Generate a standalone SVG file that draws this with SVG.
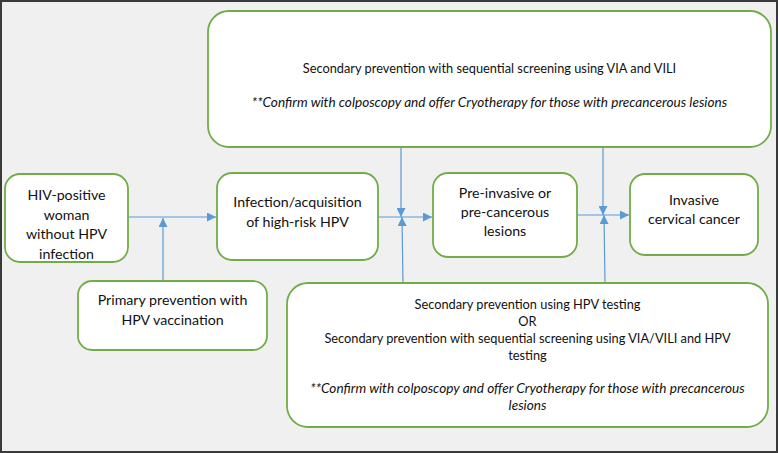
<svg xmlns="http://www.w3.org/2000/svg" width="778" height="453" viewBox="0 0 778 453">
<defs>
<style>
.bg{fill:#f0f0f0;stroke:#3a3a3a;stroke-width:2}
.box{fill:#ffffff;stroke:#70ad47;stroke-width:1.8}
.t{font-family:Lato,"Liberation Sans",sans-serif;font-size:14.2px;fill:#111;text-anchor:middle}
.s{font-family:Lato,"Liberation Sans",sans-serif;font-size:12.8px;fill:#111;text-anchor:middle}
.i{font-style:italic;font-size:13.6px}
.c{stroke:#5b9bd5;stroke-width:1.2;fill:none}
</style>
<marker id="ah" viewBox="0 0 10 10" refX="10" refY="5" markerWidth="9" markerHeight="9" markerUnits="userSpaceOnUse" orient="auto">
<path d="M0,0 L10,5 L0,10 Z" fill="#5b9bd5"/>
</marker>
</defs>
<rect class="bg" x="1" y="1" width="776" height="451"/>
<g id="connectors">
<line class="c" x1="128" y1="217" x2="216" y2="217" marker-end="url(#ah)"/>
<line class="c" x1="163" y1="281" x2="163" y2="218" marker-end="url(#ah)"/>
<line class="c" x1="378" y1="217" x2="432" y2="217" marker-end="url(#ah)"/>
<line class="c" x1="401" y1="147" x2="401" y2="217" marker-end="url(#ah)"/>
<line class="c" x1="403" y1="283" x2="402" y2="217" marker-end="url(#ah)"/>
<line class="c" x1="577" y1="215" x2="629" y2="215" marker-end="url(#ah)"/>
<line class="c" x1="603" y1="147" x2="603" y2="215" marker-end="url(#ah)"/>
<line class="c" x1="605" y1="283" x2="604" y2="215" marker-end="url(#ah)"/>
</g>
<g id="top">
<rect class="box" x="208" y="11" width="563" height="136" rx="21"/>
<text class="s" x="489.5" y="73">Secondary prevention with sequential screening using VIA and VILI</text>
<text class="s i" x="489.5" y="107">**Confirm with colposcopy and offer Cryotherapy for those with precancerous lesions</text>
</g>
<g id="hiv">
<rect class="box" x="5" y="174" width="123" height="88" rx="15"/>
<text class="t" x="66.5" y="200">HIV-positive</text>
<text class="t" x="66.5" y="219.5">woman</text>
<text class="t" x="66.5" y="239">without HPV</text>
<text class="t" x="66.5" y="259">infection</text>
</g>
<g id="infection">
<rect class="box" x="217" y="173" width="161" height="87" rx="15"/>
<text class="t" x="297.5" y="207">Infection/acquisition</text>
<text class="t" x="297.5" y="226.5">of high-risk HPV</text>
</g>
<g id="preinvasive">
<rect class="box" x="433" y="173" width="144" height="84" rx="15"/>
<text class="t" x="505" y="198">Pre-invasive or</text>
<text class="t" x="505" y="217">pre-cancerous</text>
<text class="t" x="505" y="236">lesions</text>
</g>
<g id="invasive">
<rect class="box" x="630" y="174" width="128" height="81" rx="15"/>
<text class="t" x="694" y="205">Invasive</text>
<text class="t" x="694" y="223.5">cervical cancer</text>
</g>
<g id="primary">
<rect class="box" x="78" y="281" width="189" height="69" rx="14"/>
<text class="t" x="172.5" y="305">Primary prevention with</text>
<text class="t" x="172.5" y="325">HPV vaccination</text>
</g>
<g id="bottom">
<rect class="box" x="287" y="283" width="481" height="144" rx="21"/>
<text class="s" x="527.5" y="309">Secondary prevention using HPV testing</text>
<text class="s" x="527.5" y="326">OR</text>
<text class="s" x="527.5" y="343">Secondary prevention with sequential screening using VIA/VILI and HPV</text>
<text class="s" x="527.5" y="360">testing</text>
<text class="s i" x="527.5" y="393">**Confirm with colposcopy and offer Cryotherapy for those with precancerous</text>
<text class="s i" x="527.5" y="410">lesions</text>
</g>
</svg>
